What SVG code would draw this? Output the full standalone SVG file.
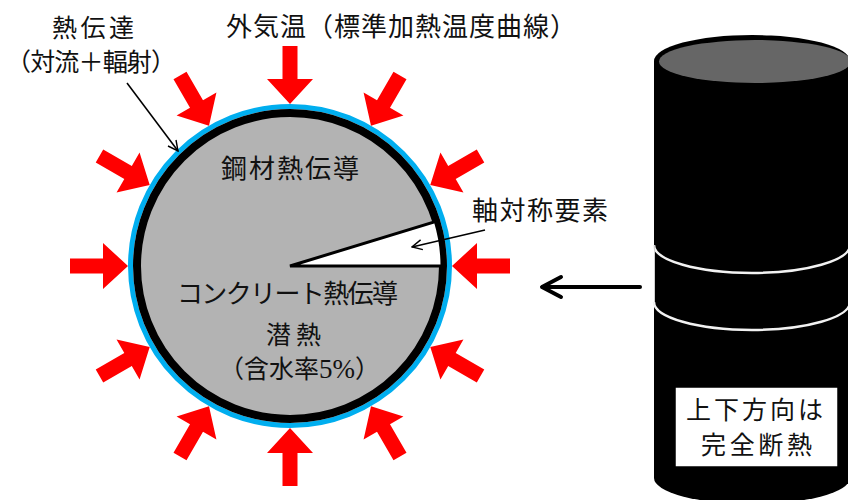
<svg xmlns="http://www.w3.org/2000/svg" width="848" height="500" viewBox="0 0 848 500">
  <defs>
    <style>
      .t { font-family: "Noto Sans CJK JP", "Noto Sans", sans-serif; font-size: 26px; fill: #111; }
      .sm { font-size: 25px; }
      .ser { font-family: "Liberation Serif", serif; }
      .heat { fill: #ff0000; }
      .thin { stroke: #000; stroke-width: 1.6; fill: none; }
      .seam { stroke: #f2f2f2; stroke-width: 2.5; fill: none; }
    </style>
    <marker id="open" viewBox="0 0 12 12" refX="11" refY="6" markerWidth="12" markerHeight="12" markerUnits="userSpaceOnUse" orient="auto">
      <path d="M1,1 L11,6 L1,11" fill="none" stroke="#000" stroke-width="1.4"/>
    </marker>
    <!-- heat-input arrow, tip at origin, pointing down (+y) -->
    <polygon id="heatArrow" class="heat" points="0,0 -23,-25 -7.5,-25 -7.5,-58 7.5,-58 7.5,-25 23,-25"/>
  </defs>

  <!-- column cross-section -->
  <g id="section">
    <circle cx="290" cy="266" r="159.5" fill="none" stroke="#00aeef" stroke-width="5"/>
    <circle cx="290" cy="266" r="153" fill="#b3b3b3" stroke="#000" stroke-width="8"/>
    <path d="M290,266 L442,266 A152,152 0 0 0 435.4,221.6 Z" fill="#fff" stroke="#000" stroke-width="3" stroke-linejoin="miter"/>
  </g>

  <!-- heat input from the surrounding air -->
  <g id="heat-arrows" transform="translate(290,266)">
    <use href="#heatArrow" transform="rotate(0) translate(0,-162)"/>
    <use href="#heatArrow" transform="rotate(30) translate(0,-162)"/>
    <use href="#heatArrow" transform="rotate(60) translate(0,-162)"/>
    <use href="#heatArrow" transform="rotate(90) translate(0,-162)"/>
    <use href="#heatArrow" transform="rotate(120) translate(0,-162)"/>
    <use href="#heatArrow" transform="rotate(150) translate(0,-162)"/>
    <use href="#heatArrow" transform="rotate(180) translate(0,-162)"/>
    <use href="#heatArrow" transform="rotate(210) translate(0,-162)"/>
    <use href="#heatArrow" transform="rotate(240) translate(0,-162)"/>
    <use href="#heatArrow" transform="rotate(270) translate(0,-162)"/>
    <use href="#heatArrow" transform="rotate(300) translate(0,-162)"/>
    <use href="#heatArrow" transform="rotate(330) translate(0,-162)"/>
  </g>

  <!-- column shaft -->
  <g id="column">
    <rect x="654" y="61" width="196" height="417" fill="#000"/>
    <ellipse cx="752" cy="61" rx="98" ry="26" fill="#000"/>
    <ellipse cx="755" cy="61.5" rx="96" ry="21.5" fill="#666"/>
    <ellipse cx="752" cy="478" rx="98" ry="26" fill="#000"/>
    <path class="seam" d="M654,245 A98,28 0 0 0 850,245"/>
    <path class="seam" d="M654,302 A98,28 0 0 0 850,302"/>
    <line x1="654.5" y1="245" x2="654.5" y2="302" stroke="#cfcfcf" stroke-width="1"/>
  </g>

  <g id="boundary-note">
    <rect x="675" y="387" width="163" height="80" fill="#fff" stroke="#000" stroke-width="1.5"/>
    <text class="t sm" x="686" y="419" textLength="137" lengthAdjust="spacing">上下方向は</text>
    <text class="t sm" x="701" y="454" textLength="111" lengthAdjust="spacing">完全断熱</text>
  </g>

  <!-- connectors -->
  <g id="connectors">
    <line class="thin" x1="127" y1="83" x2="178" y2="151" marker-end="url(#open)"/>
    <line class="thin" x1="485" y1="230" x2="412" y2="247" marker-end="url(#open)"/>
    <g stroke="#000" stroke-width="4" stroke-linecap="round" stroke-linejoin="round" fill="none">
      <line x1="640" y1="287" x2="543" y2="287"/>
      <polyline points="561,277 542,287 561,297"/>
    </g>
  </g>

  <!-- labels -->
  <g id="labels">
    <text class="t sm" x="52" y="37" textLength="82" lengthAdjust="spacing">熱伝達</text>
    <text class="t sm" x="6" y="71" textLength="170" lengthAdjust="spacing">（対流＋輻射）</text>
    <text class="t" x="226" y="36" textLength="350" lengthAdjust="spacing">外気温（標準加熱温度曲線）</text>
    <text class="t" x="221" y="178" textLength="138" lengthAdjust="spacing">鋼材熱伝導</text>
    <text class="t" x="472" y="220" textLength="136" lengthAdjust="spacing">軸対称要素</text>
    <text class="t" x="177" y="303" textLength="221" lengthAdjust="spacing">コンクリート熱伝導</text>
    <text class="t sm" x="266" y="344" textLength="55" lengthAdjust="spacing">潜熱</text>
    <text class="t sm" x="219" y="378">（含水率<tspan class="ser" font-size="27">5%</tspan>）</text>
  </g>
</svg>
